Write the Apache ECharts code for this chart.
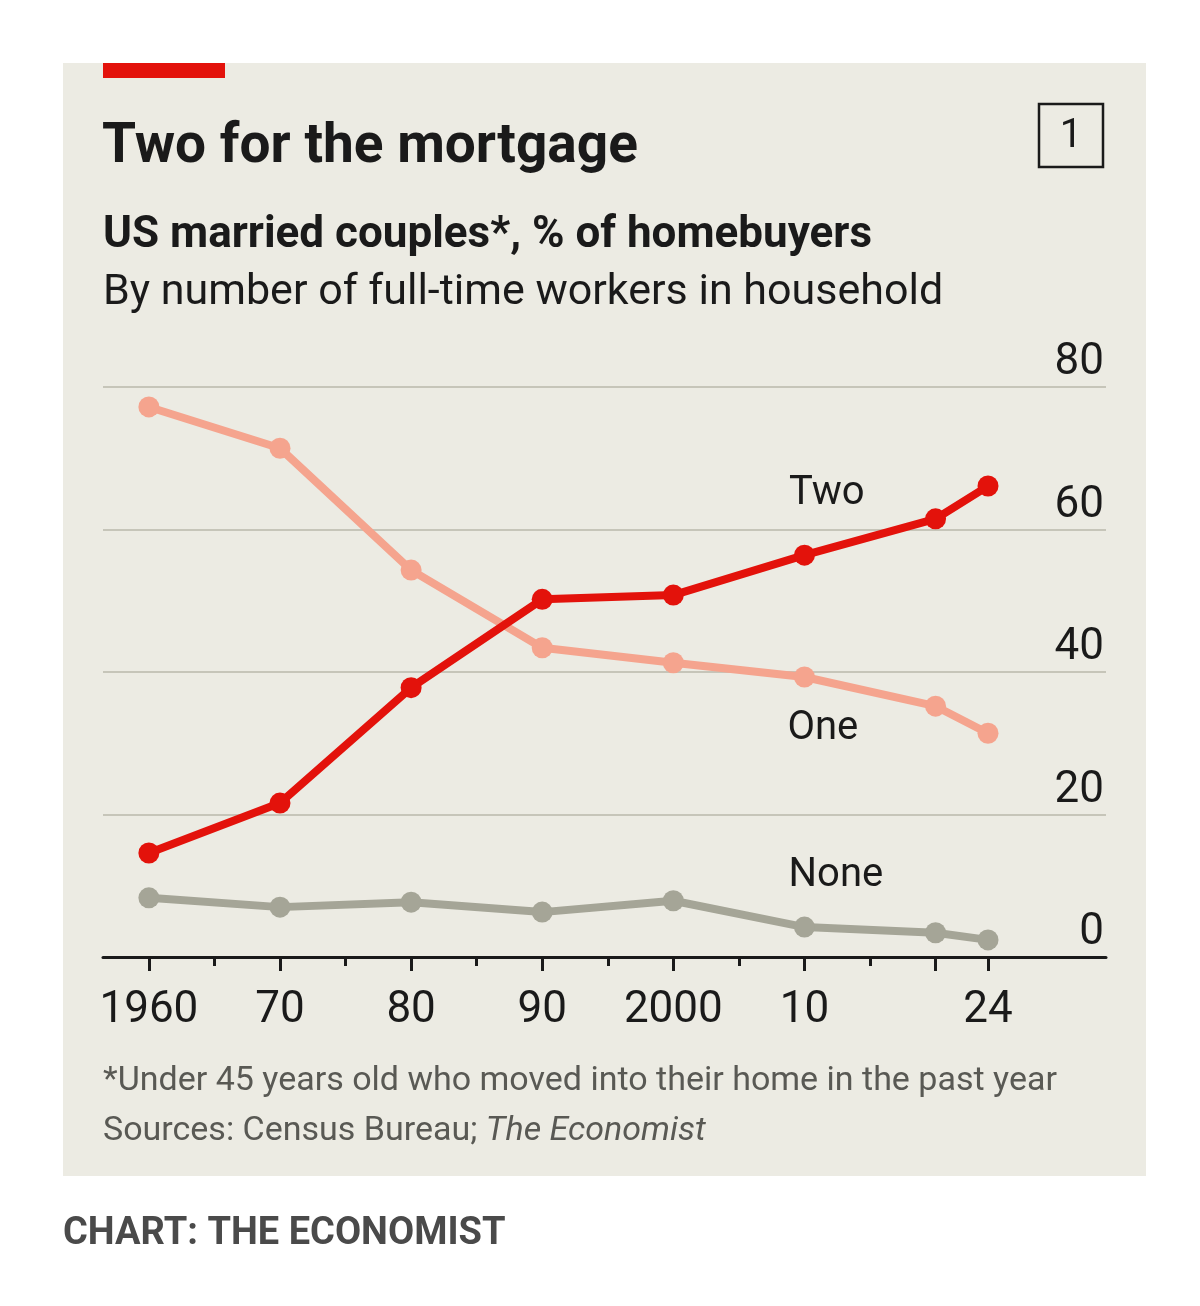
<html>
<head>
    <meta charset='UTF-8'>
    <script src='https://cdn.jsdelivr.net/npm/echarts@6/dist/echarts.min.js'></script>
    <style>
        html, body { margin: 0; padding: 0; background: #ffffff; }
        #chart { width: 1200px; height: 1306px; }
    </style>
</head>
<body>
    <div id="chart"></div>
    <script>
        // data
        const years = [1960, 1970, 1980, 1990, 2000, 2010, 2020, 2024]
        const two = [14.6, 21.6, 37.8, 50.2, 50.8, 56.4, 61.5, 66.1]
        const one = [77.2, 71.4, 54.3, 43.4, 41.3, 39.3, 35.2, 31.4]
        const none = [8.3, 7.0, 7.7, 6.3, 7.9, 4.2, 3.4, 2.4]
        const majorTicks = [1960, 1970, 1980, 1990, 2000, 2010, 2020, 2024]
        const minorTicks = [1965, 1975, 1985, 1995, 2005, 2015]
        const xLabels = { 1960: '1960', 1970: '70', 1980: '80', 1990: '90', 2000: '2000', 2010: '10', 2024: '24' }
        const seriesLabels = [
            { name: 'Two', at: [2011.7, 65.0] },
            { name: 'One', at: [2011.4, 32.0] },
            { name: 'None', at: [2012.4, 11.3] }
        ]

        const FONT = "'Roboto', sans-serif"
        const RED = '#e3120b'
        const SALMON = '#f5a48e'
        const GREY = '#a5a597'

        const pts = arr => years.map((y, i) => [y, arr[i]])

        const lineSeries = (name, arr, color) => ({
            name: name,
            type: 'line',
            data: pts(arr),
            symbol: 'circle',
            symbolSize: 21,
            lineStyle: { color: color, width: 8 },
            itemStyle: { color: color },
            z: name === 'Two' ? 5 : 3,
            silent: true,
            animation: false
        })

        const myChart = echarts.init(document.getElementById('chart'), null, { renderer: 'canvas' })

        const series = [
            lineSeries('None', none, GREY),
            lineSeries('One', one, SALMON),
            lineSeries('Two', two, RED)
        ]
        // direct labels on the lines, placed in data space
        series.push({
            type: 'scatter',
            data: seriesLabels.map(d => ({ value: d.at, label: { formatter: d.name } })),
            symbolSize: 0,
            itemStyle: { opacity: 1 },
            label: {
                show: true,
                position: 'inside',
                color: '#1a1a1a',
                opacity: 1,
                textBorderWidth: 0,
                fontFamily: FONT,
                fontSize: 40
            },
            silent: true,
            animation: false
        })

        const txt = (x, y, text, font, fill, extra) => ({
            type: 'text', x: x, y: y,
            style: Object.assign({ text: text, font: font, fill: fill, verticalAlign: 'middle' }, extra || {})
        })

        myChart.setOption({
            backgroundColor: '#ffffff',
            animation: false,
            graphic: [
                { type: 'rect', shape: { x: 63, y: 63, width: 1083, height: 1113 }, style: { fill: '#ecebe3' }, z: -10 },
                { type: 'rect', shape: { x: 103, y: 63, width: 122, height: 15 }, style: { fill: RED } },
                txt(102, 148, 'Two for the mortgage', "bold 55px " + FONT, '#1a1a1a'),
                { type: 'rect', shape: { x: 1039, y: 104, width: 64, height: 63 }, style: { fill: 'none', stroke: '#1a1a1a', lineWidth: 2.5 } },
                txt(1071, 137, '1', "40px " + FONT, '#1a1a1a', { align: 'center' }),
                txt(103, 236, 'US married couples*, % of homebuyers', "bold 44px " + FONT, '#1a1a1a'),
                txt(103, 293, 'By number of full-time workers in household', "43px " + FONT, '#1a1a1a'),
                txt(103, 1081, '*Under 45 years old who moved into their home in the past year', "34px " + FONT, '#595954'),
                {
                    type: 'text', x: 103, y: 1131, style: {
                        text: '{a|Sources: Census Bureau; }{b|The Economist}', verticalAlign: 'middle',
                        rich: {
                            a: { font: "34px " + FONT, fill: '#595954' },
                            b: { font: "italic 34px " + FONT, fill: '#595954' }
                        }
                    }
                },
                txt(63, 1234, 'CHART: THE ECONOMIST', "bold 38px " + FONT, '#4a4a4a')
            ],
            grid: { left: 103, right: 94, top: 387, bottom: 349, containLabel: false },
            xAxis: [
                {
                    type: 'value', min: 1956.5, max: 2033,
                    axisLine: { show: true, onZero: false, lineStyle: { color: '#1a1a1a', width: 3 } },
                    axisTick: { show: true, customValues: majorTicks, length: 14, lineStyle: { color: '#1a1a1a', width: 3 } },
                    axisLabel: {
                        show: true, customValues: Object.keys(xLabels).map(Number),
                        formatter: v => xLabels[v] || '',
                        margin: 32, color: '#1a1a1a', fontFamily: FONT, fontSize: 44
                    },
                    splitLine: { show: false }
                },
                {
                    type: 'value', min: 1956.5, max: 2033, position: 'bottom',
                    axisLine: { show: false },
                    axisTick: { show: true, customValues: minorTicks, length: 9, lineStyle: { color: '#1a1a1a', width: 3 } },
                    axisLabel: { show: false },
                    splitLine: { show: false }
                }
            ],
            yAxis: {
                type: 'value', min: 0, max: 80, interval: 20, position: 'right',
                axisLine: { show: false },
                axisTick: { show: false },
                axisLabel: {
                    inside: true, margin: 2, verticalAlign: 'bottom', padding: [0, 0, 2, 0],
                    color: '#1a1a1a', fontFamily: FONT, fontSize: 44
                },
                splitLine: { lineStyle: { color: '#c6c5b9', width: 2 } }
            },
            series: series
        })
    </script>
</body>
</html>
